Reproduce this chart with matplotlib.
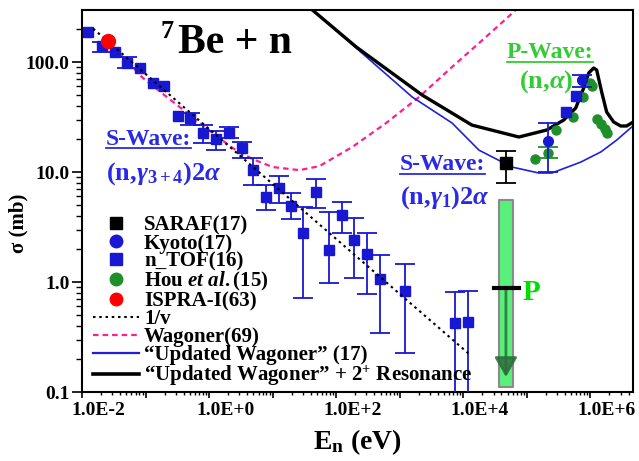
import numpy as np
import matplotlib
matplotlib.use("Agg")
import matplotlib.pyplot as plt
import matplotlib.ticker as ticker
import matplotlib.transforms as mtransforms
from matplotlib.lines import Line2D

# ── Style ────────────────────────────────────────────────────
plt.rcParams.update({
    "font.family":       "Liberation Serif",
    "font.weight":       "bold",
    "mathtext.fontset":  "custom",
    "mathtext.rm":       "Liberation Serif",
    "mathtext.bf":       "Liberation Serif:bold",
    "mathtext.it":       "Liberation Serif:italic",
    "axes.linewidth":    1.5,
})

BLUE      = "#1818d2"
BLUE_TXT  = "#2a2ae6"
BLUE_LINE = "#2020dd"
GREEN     = "#1f8f2a"
GREEN_TXT = "#33cc33"
PINK      = "#ff1f8c"

# ── Data ─────────────────────────────────────────────────────
# n_TOF(16) (n,gamma) points: energy [eV], sigma [mb], error-bar lo / hi
NTOF_E  = [0.0124, 0.0206, 0.033, 0.0508, 0.0815, 0.130, 0.194, 0.321, 0.496,
           0.794, 1.27, 2.03, 3.25, 4.83, 7.74, 12.4, 19.8, 30.6, 48.9,
           78, 125, 193, 309, 494, 1219, 7430, 11900]
NTOF_S  = [187, 140, 123, 98, 88, 64, 60.5, 32.3, 31.0,
           22.6, 20.0, 22.6, 16.5, 10.4, 5.93, 7.16, 4.9, 2.79, 6.58,
           1.95, 4.06, 2.41, 1.80, 1.06, 0.828, 0.424, 0.433]
NTOF_LO = [187, 123, 123, 88, 88, 64, 60.5, 32.3, 26.7,
           18.4, 15.9, 20.4, 13.4, 7.6, 4.5, 5.2, 3.7, 0.716, 4.7,
           0.98, 2.79, 1.09, 0.778, 0.344, 0.226, 0.05, 0.05]
NTOF_HI = [187, 152, 123, 111, 88, 64, 60.5, 32.3, 34.4,
           26.7, 23.6, 25.6, 18.7, 13.4, 7.6, 9.2, 6.4, 4.8, 8.6,
           4.3, 5.3, 3.82, 2.79, 1.76, 1.46, 0.81, 0.82]
# n_TOF(16) (n,alpha) points
NTOF_NA_E = [411000, 590000]
NTOF_NA_S = [35.1, 49.1]

KYOTO_E  = [214000, 733000]
KYOTO_S  = [19.1, 68.6]
KYOTO_LO = [10.0, 59.3]
KYOTO_HI = [27.9, 76.2]

HOU_E  = [134000, 214000, 286000, 530000, 760000, 979000, 1.05e6,
          1.26e6, 1.46e6, 1.68e6, 1.81e6]
HOU_S  = [13.1, 14.9, 24.1, 31.6, 48.1, 64.4, 60.5, 30.3, 27.3, 24.6, 22.6]
HOU_LO = [13.1, 13.3, 24.1, 31.6, 48.1, 64.4, 60.5, 30.3, 27.3, 24.6, 22.6]
HOU_HI = [13.1, 17.0, 24.1, 31.6, 48.1, 64.4, 60.5, 30.3, 27.3, 24.6, 22.6]

SARAF_E, SARAF_S, SARAF_LO, SARAF_HI = [47000], [12.1], [7.94], [15.5]
ISPRA_E, ISPRA_S = [0.0253], [155]

# 1/v reference line end points
ONE_V_E = [0.015, 12000]
ONE_V_S = [201, 0.225]

WAGONER_E = [0.0253, 0.0908, 0.216, 0.495, 1.14, 2.35, 4.83, 9.96, 26.4,
             54.5, 180, 614, 2023, 6670, 22800, 67400]
WAGONER_S = [155, 71.6, 48.1, 33.0, 22.6, 16.5, 13.1, 11.1, 10.4,
             11.3, 16.9, 27.9, 48.1, 90.1, 169, 297]

UPD_E = [42.3, 207, 1571, 6670, 17700, 58300, 155000, 248000,
         706000, 1.46e6, 2.6e6, 4.47e6]
UPD_S = [297, 134, 48.1, 27.9, 15.8, 11.1, 9.79, 9.79,
         12.3, 15.2, 19.5, 25.6]

RES_E = [42.3, 207, 2255, 13700, 75200, 207000, 382000, 590000, 787000,
         944000, 1.13e6, 1.26e6, 1.51e6, 1.81e6, 2.33e6, 3.0e6, 3.73e6, 4.47e6]
RES_S = [297, 137, 50.1, 26.7, 20.8, 24.1, 29.7, 38.2, 58.0,
         79.4, 88.2, 84.6, 53.4, 35.1, 28.5, 26.2, 26.2, 27.9]

# Maxwellian band and "P" marker
BAND_E = [36500, 60500]
BAND_S = [0.111, 5.56]
P_E, P_S = [30500, 75200], 0.88
ARROW_E, ARROW_TIP = 47000, 0.137

XLIM = (1e-2, 4.7e6)
YLIM = (0.1, 297)

LEGEND_LABELS = ["SARAF(17)", "Kyoto(17)", "n_TOF(16)",
                 r"Hou $\mathit{et\ al.}$(15)", "ISPRA-I(63)", "1/v",
                 "Wagoner(69)", "\u201cUpdated Wagoner\u201d (17)",
                 "\u201cUpdated Wagoner\u201d + 2$^{\\mathbf{+}}$ Resonance"]


def points(ax, e, s, lo, hi, marker, ms, color, z):
    """Markers for all points, error bars only where one was drawn."""
    e, s, lo, hi = map(np.asarray, (e, s, lo, hi))
    ax.plot(e, s, marker, ms=ms, color=color, zorder=z, ls="none")
    m = (lo < s) | (hi > s)
    if m.any():
        ax.errorbar(e[m], s[m], yerr=[s[m] - lo[m], hi[m] - s[m]], ls="none",
                    color=color, capsize=7, elinewidth=1.3, capthick=1.3,
                    zorder=z - 0.1)


fig = plt.figure(figsize=(6.39, 4.61), dpi=100)
ax = fig.add_axes([82 / 639, 1 - 392 / 461, 551 / 639, 382 / 461])
ax.set_xscale("log")
ax.set_yscale("log")

# green band + P marker + arrow
ax.fill_between(BAND_E, BAND_S[0], BAND_S[1], facecolor="#58f07a",
                edgecolor="#8a8a8a", lw=1.5, zorder=1)
ax.plot(P_E, [P_S, P_S], color="black", lw=3, zorder=4)
ax.annotate("", xy=(ARROW_E, ARROW_TIP), xytext=(ARROW_E, P_S),
            arrowprops=dict(arrowstyle="-|>,head_length=0.6,head_width=0.35",
                            mutation_scale=20, lw=2, color="#2d6e3c",
                            alpha=0.85, shrinkA=0, shrinkB=0), zorder=3)

# curves
ax.plot(ONE_V_E, ONE_V_S, color="black", ls=(0, (1.2, 1.8)), lw=1.5, zorder=6)
ax.plot(WAGONER_E, WAGONER_S, color=PINK, ls=(0, (2.5, 1.8)), lw=1.6, zorder=2)
ax.plot(UPD_E, UPD_S, color=BLUE_LINE, lw=1.2, zorder=2)
ax.plot(RES_E, RES_S, color="black", lw=2.4, zorder=3)

# data
points(ax, NTOF_E, NTOF_S, NTOF_LO, NTOF_HI, "s", 7, BLUE, 5)
ax.plot(NTOF_NA_E, NTOF_NA_S, "s", ms=7, color=BLUE, zorder=5)
points(ax, HOU_E, HOU_S, HOU_LO, HOU_HI, "o", 6.5, GREEN, 4)
points(ax, KYOTO_E, KYOTO_S, KYOTO_LO, KYOTO_HI, "o", 7, BLUE, 5)
points(ax, SARAF_E, SARAF_S, SARAF_LO, SARAF_HI, "s", 9, "black", 5)
ax.plot(ISPRA_E, ISPRA_S, "o", ms=10, color="red", zorder=6)

# axes
ax.set_xlim(*XLIM)
ax.set_ylim(*YLIM)
ax.xaxis.set_major_locator(ticker.LogLocator(base=10, numticks=20))
ax.xaxis.set_minor_locator(ticker.LogLocator(base=10, subs=np.arange(2, 10), numticks=20))
ax.xaxis.set_minor_formatter(ticker.NullFormatter())


def xfmt(v, pos):
    e = int(round(np.log10(v)))
    return "1.0E%+d" % e if e % 2 == 0 else ""


ax.xaxis.set_major_formatter(ticker.FuncFormatter(xfmt))
ax.yaxis.set_major_formatter(ticker.FuncFormatter(lambda v, p: "%.1f" % v))
ax.yaxis.set_minor_formatter(ticker.NullFormatter())
ax.tick_params(axis="x", which="major", length=4.5, width=1.2, labelsize=14, pad=3)
ax.tick_params(axis="x", which="minor", length=2.5, width=1.0)
ax.tick_params(axis="y", which="major", length=7, width=1.2, labelsize=14, pad=2)
ax.tick_params(axis="y", which="minor", length=4, width=1.0)

ax.set_xlabel(r"E$_{\mathbf{n}}$ (eV)", fontsize=20, fontweight="bold")
ax.xaxis.set_label_coords(0.5, -0.092)
ax.set_ylabel("\u03c3 (mb)", fontsize=15, fontweight="bold")
ax.yaxis.set_label_coords(-0.098, 0.442)

# texts
ax.text(0.1416, 0.9267, "7", transform=ax.transAxes, fontsize=19,
        fontweight="bold", va="baseline")
ax.text(0.174, 0.887, "Be + n", transform=ax.transAxes, fontsize=30,
        fontweight="bold", va="baseline")

sw1 = ax.text(0.0436, 0.647, "S-Wave:", transform=ax.transAxes, fontsize=17,
              fontweight="bold", color=BLUE_TXT, va="baseline")
ax.text(0.0436, 0.555, r"(n,$\gamma_{3+4}$)$\mathrm{2}\alpha$",
        transform=ax.transAxes, fontsize=19, color=BLUE_TXT, va="baseline")
sw2 = ax.text(0.577, 0.581, "S-Wave:", transform=ax.transAxes, fontsize=17,
              fontweight="bold", color=BLUE_TXT, va="baseline")
ax.text(0.577, 0.492, r"(n,$\gamma_{1}$)$\mathrm{2}\alpha$",
        transform=ax.transAxes, fontsize=19, color=BLUE_TXT, va="baseline")
pw = ax.text(0.771, 0.874, "P-Wave:", transform=ax.transAxes, fontsize=17,
             fontweight="bold", color=GREEN_TXT, va="baseline")
ax.text(0.793, 0.796, r"(n,$\alpha$)", transform=ax.transAxes,
        fontsize=19, color=GREEN_TXT, va="baseline")
ax.text(0.800, 0.241, "P", transform=ax.transAxes, fontsize=21,
        fontweight="bold", color="#00dd00", va="baseline")

# legend
handles = [
    Line2D([], [], ls="none", marker="s", ms=9, color="black"),
    Line2D([], [], ls="none", marker="o", ms=9, color=BLUE),
    Line2D([], [], ls="none", marker="s", ms=9, color=BLUE),
    Line2D([], [], ls="none", marker="o", ms=9, color=GREEN),
    Line2D([], [], ls="none", marker="o", ms=9, color="red"),
    Line2D([], [], ls=(0, (1.2, 1.8)), lw=1.5, color="black"),
    Line2D([], [], ls=(0, (2.5, 1.8)), lw=1.6, color=PINK),
    Line2D([], [], lw=1.6, color=BLUE_LINE),
    Line2D([], [], lw=2.6, color="black"),
]
ax.legend(handles, LEGEND_LABELS, loc="upper left", bbox_to_anchor=(0.02, 0.462),
          frameon=False, borderpad=0, borderaxespad=0, handlelength=2.2,
          handletextpad=0.25, labelspacing=-0.09,
          prop=dict(family="Liberation Serif", weight="bold", size=15))

# shift x tick labels right like the original, underline wave labels
fig.canvas.draw()
shift = mtransforms.ScaledTranslation(16 / 100, 0, fig.dpi_scale_trans)
for t in ax.xaxis.get_major_ticks():
    t.label1.set_transform(t.label1.get_transform() + shift)

inv = ax.transAxes.inverted()
for t, col in ((sw1, BLUE_TXT), (sw2, BLUE_TXT), (pw, GREEN_TXT)):
    bb = t.get_window_extent()
    (x0, y0), (x1, _) = inv.transform([[bb.x0, bb.y0 + 1.5], [bb.x1, bb.y0]])
    ax.plot([x0, x1], [y0, y0], color=col, lw=1.3, transform=ax.transAxes,
            clip_on=False)

fig.savefig("out.png", dpi=100)
